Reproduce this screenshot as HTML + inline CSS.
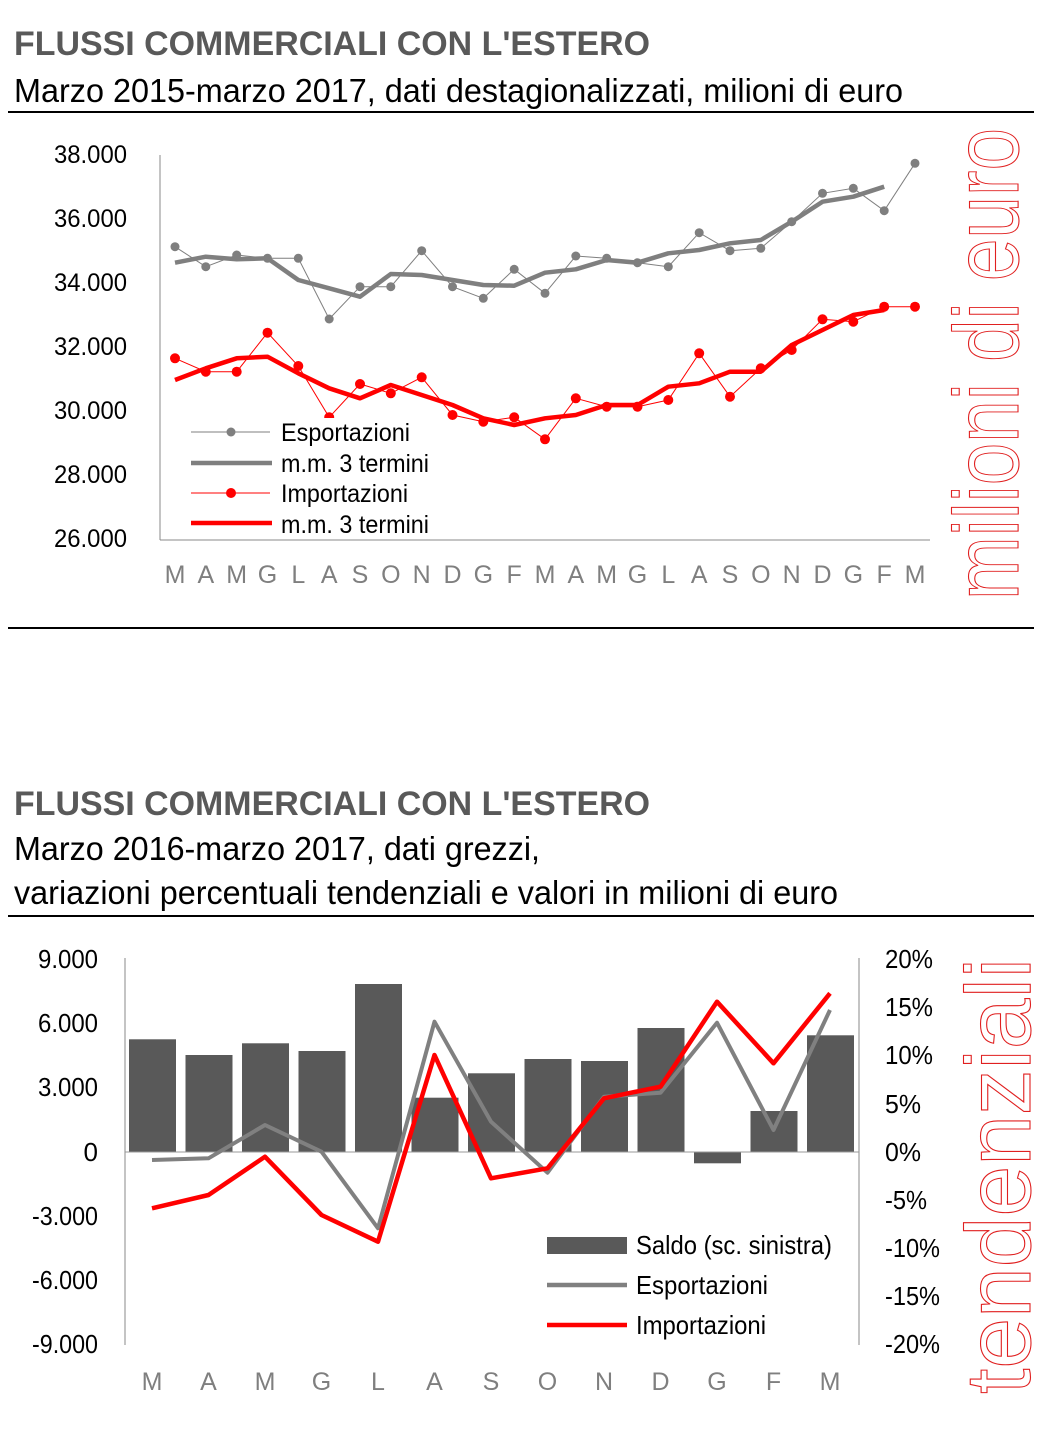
<!DOCTYPE html>
<html><head><meta charset="utf-8"><style>
html,body{margin:0;padding:0;background:#fff;}
svg{display:block;font-family:"Liberation Sans",sans-serif;}
</style></head><body>
<svg width="1040" height="1431" viewBox="0 0 1040 1431" xmlns="http://www.w3.org/2000/svg">
<rect width="1040" height="1431" fill="#fff"/>
<!-- TOP -->
<text x="14" y="55" font-size="34" font-weight="bold" fill="#595959" textLength="636" lengthAdjust="spacingAndGlyphs">FLUSSI COMMERCIALI CON L'ESTERO</text>
<text x="14" y="102" font-size="33" fill="#000" textLength="889" lengthAdjust="spacingAndGlyphs">Marzo 2015-marzo 2017, dati destagionalizzati, milioni di euro</text>
<line x1="8" y1="112" x2="1034" y2="112" stroke="#000" stroke-width="2"/>
<line x1="160" y1="155" x2="160" y2="540" stroke="#888" stroke-width="1"/>
<line x1="160" y1="540" x2="930" y2="540" stroke="#888" stroke-width="1"/>
<g font-size="25" fill="#000" text-anchor="end">
<text x="127" y="163" textLength="73" lengthAdjust="spacingAndGlyphs">38.000</text>
<text x="127" y="227" textLength="73" lengthAdjust="spacingAndGlyphs">36.000</text>
<text x="127" y="291" textLength="73" lengthAdjust="spacingAndGlyphs">34.000</text>
<text x="127" y="355" textLength="73" lengthAdjust="spacingAndGlyphs">32.000</text>
<text x="127" y="419" textLength="73" lengthAdjust="spacingAndGlyphs">30.000</text>
<text x="127" y="483" textLength="73" lengthAdjust="spacingAndGlyphs">28.000</text>
<text x="127" y="547" textLength="73" lengthAdjust="spacingAndGlyphs">26.000</text>
</g>
<g font-size="25" fill="#7f7f7f" text-anchor="middle">
<text x="175" y="583">M</text><text x="205.8" y="583">A</text><text x="236.7" y="583">M</text><text x="267.5" y="583">G</text><text x="298.3" y="583">L</text><text x="329.2" y="583">A</text><text x="360" y="583">S</text><text x="390.8" y="583">O</text><text x="421.7" y="583">N</text><text x="452.5" y="583">D</text><text x="483.3" y="583">G</text><text x="514.2" y="583">F</text><text x="545" y="583">M</text><text x="575.8" y="583">A</text><text x="606.7" y="583">M</text><text x="637.5" y="583">G</text><text x="668.3" y="583">L</text><text x="699.2" y="583">A</text><text x="730" y="583">S</text><text x="760.8" y="583">O</text><text x="791.7" y="583">N</text><text x="822.5" y="583">D</text><text x="853.3" y="583">G</text><text x="884.2" y="583">F</text><text x="915" y="583">M</text>
</g>
<!-- exports -->
<polyline fill="none" stroke="#7f7f7f" stroke-width="1" points="175,246.7 205.8,266.7 236.7,255 267.5,258.3 298.3,258.3 329.2,319 360,286.7 390.8,286.7 421.7,250.7 452.5,286.7 483.3,298.3 514.2,269.3 545,293.3 575.8,256 606.7,258.3 637.5,262.7 668.3,266.7 699.2,232.7 730,250.7 760.8,248.3 791.7,221.7 822.5,193.3 853.3,188.3 884.2,210.7 915,163.3"/>
<g fill="#7f7f7f">
<circle cx="175" cy="246.7" r="4.5"/><circle cx="205.8" cy="266.7" r="4.5"/><circle cx="236.7" cy="255" r="4.5"/><circle cx="267.5" cy="258.3" r="4.5"/><circle cx="298.3" cy="258.3" r="4.5"/><circle cx="329.2" cy="319" r="4.5"/><circle cx="360" cy="286.7" r="4.5"/><circle cx="390.8" cy="286.7" r="4.5"/><circle cx="421.7" cy="250.7" r="4.5"/><circle cx="452.5" cy="286.7" r="4.5"/><circle cx="483.3" cy="298.3" r="4.5"/><circle cx="514.2" cy="269.3" r="4.5"/><circle cx="545" cy="293.3" r="4.5"/><circle cx="575.8" cy="256" r="4.5"/><circle cx="606.7" cy="258.3" r="4.5"/><circle cx="637.5" cy="262.7" r="4.5"/><circle cx="668.3" cy="266.7" r="4.5"/><circle cx="699.2" cy="232.7" r="4.5"/><circle cx="730" cy="250.7" r="4.5"/><circle cx="760.8" cy="248.3" r="4.5"/><circle cx="791.7" cy="221.7" r="4.5"/><circle cx="822.5" cy="193.3" r="4.5"/><circle cx="853.3" cy="188.3" r="4.5"/><circle cx="884.2" cy="210.7" r="4.5"/><circle cx="915" cy="163.3" r="4.5"/>
</g>
<polyline fill="none" stroke="#7f7f7f" stroke-width="4.5" stroke-linejoin="round" points="175,262.7 205.8,256.7 236.7,259.3 267.5,258.3 298.3,280 329.2,288.3 360,296.7 390.8,274 421.7,275 452.5,280 483.3,285 514.2,285.7 545,272.7 575.8,269.3 606.7,260 637.5,262.7 668.3,253.3 699.2,250 730,243.3 760.8,240 791.7,221.7 822.5,201.7 853.3,196.7 884.2,186.7"/>
<!-- imports -->
<polyline fill="none" stroke="#ff0000" stroke-width="1" points="175,358.3 205.8,371.7 236.7,371.7 267.5,332.7 298.3,366 329.2,417.3 360,384 390.8,393.3 421.7,377.3 452.5,415 483.3,421.7 514.2,417.3 545,439.3 575.8,398.3 606.7,406.7 637.5,406.7 668.3,400 699.2,353.3 730,396.7 760.8,368.3 791.7,350 822.5,319.3 853.3,321.7 884.2,306.7 915,306.7"/>
<g fill="#ff0000">
<circle cx="175" cy="358.3" r="5"/><circle cx="205.8" cy="371.7" r="5"/><circle cx="236.7" cy="371.7" r="5"/><circle cx="267.5" cy="332.7" r="5"/><circle cx="298.3" cy="366" r="5"/><circle cx="329.2" cy="417.3" r="5"/><circle cx="360" cy="384" r="5"/><circle cx="390.8" cy="393.3" r="5"/><circle cx="421.7" cy="377.3" r="5"/><circle cx="452.5" cy="415" r="5"/><circle cx="483.3" cy="421.7" r="5"/><circle cx="514.2" cy="417.3" r="5"/><circle cx="545" cy="439.3" r="5"/><circle cx="575.8" cy="398.3" r="5"/><circle cx="606.7" cy="406.7" r="5"/><circle cx="637.5" cy="406.7" r="5"/><circle cx="668.3" cy="400" r="5"/><circle cx="699.2" cy="353.3" r="5"/><circle cx="730" cy="396.7" r="5"/><circle cx="760.8" cy="368.3" r="5"/><circle cx="791.7" cy="350" r="5"/><circle cx="822.5" cy="319.3" r="5"/><circle cx="853.3" cy="321.7" r="5"/><circle cx="884.2" cy="306.7" r="5"/><circle cx="915" cy="306.7" r="5"/>
</g>
<polyline fill="none" stroke="#ff0000" stroke-width="4.5" stroke-linejoin="round" points="175,380 205.8,368.3 236.7,358.3 267.5,356.7 298.3,373.3 329.2,388.3 360,398.3 390.8,385 421.7,395 452.5,405 483.3,418.3 514.2,425 545,418.3 575.8,415 606.7,405 637.5,405 668.3,386.7 699.2,383.3 730,371.7 760.8,371.7 791.7,345 822.5,330 853.3,315 884.2,310"/>
<!-- legend top -->
<rect x="180" y="418" width="260" height="121" fill="#fff"/>
<line x1="191" y1="432" x2="270" y2="432" stroke="#7f7f7f" stroke-width="1"/><circle cx="231" cy="432" r="4.5" fill="#7f7f7f"/>
<line x1="191" y1="463" x2="272" y2="463" stroke="#7f7f7f" stroke-width="4.5"/>
<line x1="191" y1="493" x2="270" y2="493" stroke="#ff0000" stroke-width="1"/><circle cx="231" cy="493" r="5" fill="#ff0000"/>
<line x1="191" y1="523" x2="272" y2="523" stroke="#ff0000" stroke-width="4.5"/>
<g font-size="25" fill="#000">
<text x="281" y="441" textLength="129" lengthAdjust="spacingAndGlyphs">Esportazioni</text>
<text x="281" y="472" textLength="148" lengthAdjust="spacingAndGlyphs">m.m. 3 termini</text>
<text x="281" y="502" textLength="127" lengthAdjust="spacingAndGlyphs">Importazioni</text>
<text x="281" y="533" textLength="148" lengthAdjust="spacingAndGlyphs">m.m. 3 termini</text>
</g>
<text transform="translate(1018,600) rotate(-90)" font-size="92" fill="none" stroke="#e02020" stroke-width="1.1" textLength="472" lengthAdjust="spacingAndGlyphs">milioni di euro</text>
<line x1="8" y1="628" x2="1034" y2="628" stroke="#000" stroke-width="2"/>

<!-- BOTTOM -->
<text x="14" y="815" font-size="34" font-weight="bold" fill="#595959" textLength="636" lengthAdjust="spacingAndGlyphs">FLUSSI COMMERCIALI CON L'ESTERO</text>
<text x="14" y="860" font-size="33" fill="#000" textLength="526" lengthAdjust="spacingAndGlyphs">Marzo 2016-marzo 2017, dati grezzi,</text>
<text x="14" y="904" font-size="33" fill="#000" textLength="824" lengthAdjust="spacingAndGlyphs">variazioni percentuali tendenziali e valori in milioni di euro</text>
<line x1="8" y1="916" x2="1034" y2="916" stroke="#000" stroke-width="2"/>
<line x1="125" y1="958" x2="125" y2="1345" stroke="#888"/>
<line x1="859" y1="958" x2="859" y2="1345" stroke="#888"/>
<g font-size="26" fill="#000" text-anchor="end">
<text x="98" y="968" textLength="60" lengthAdjust="spacingAndGlyphs">9.000</text>
<text x="98" y="1032" textLength="60" lengthAdjust="spacingAndGlyphs">6.000</text>
<text x="98" y="1096" textLength="60" lengthAdjust="spacingAndGlyphs">3.000</text>
<text x="98" y="1161">0</text>
<text x="98" y="1225" textLength="66" lengthAdjust="spacingAndGlyphs">-3.000</text>
<text x="98" y="1289" textLength="66" lengthAdjust="spacingAndGlyphs">-6.000</text>
<text x="98" y="1353" textLength="66" lengthAdjust="spacingAndGlyphs">-9.000</text>
</g>
<g font-size="26" fill="#000">
<text x="885" y="968" textLength="48" lengthAdjust="spacingAndGlyphs">20%</text>
<text x="885" y="1016" textLength="48" lengthAdjust="spacingAndGlyphs">15%</text>
<text x="885" y="1064" textLength="48" lengthAdjust="spacingAndGlyphs">10%</text>
<text x="885" y="1113" textLength="36" lengthAdjust="spacingAndGlyphs">5%</text>
<text x="885" y="1161" textLength="36" lengthAdjust="spacingAndGlyphs">0%</text>
<text x="885" y="1209" textLength="42" lengthAdjust="spacingAndGlyphs">-5%</text>
<text x="885" y="1257" textLength="55" lengthAdjust="spacingAndGlyphs">-10%</text>
<text x="885" y="1305" textLength="55" lengthAdjust="spacingAndGlyphs">-15%</text>
<text x="885" y="1353" textLength="55" lengthAdjust="spacingAndGlyphs">-20%</text>
</g>
<g fill="#595959">
<rect x="129" y="1039.3" width="47" height="112.7"/>
<rect x="185.5" y="1055" width="47" height="97"/>
<rect x="242" y="1043.3" width="47" height="108.7"/>
<rect x="298.5" y="1051" width="47" height="101"/>
<rect x="355" y="984" width="47" height="168"/>
<rect x="411.5" y="1097.7" width="47" height="54.3"/>
<rect x="468" y="1073.3" width="47" height="78.7"/>
<rect x="524.5" y="1059" width="47" height="93"/>
<rect x="581" y="1061" width="47" height="91"/>
<rect x="637.5" y="1028" width="47" height="124"/>
<rect x="694" y="1152" width="47" height="11.3"/>
<rect x="750.5" y="1111" width="47" height="41"/>
<rect x="807" y="1035.3" width="47" height="116.7"/>
</g>
<line x1="125" y1="1152" x2="859" y2="1152" stroke="#999" stroke-width="1"/>
<polyline fill="none" stroke="#808080" stroke-width="4" stroke-linejoin="round" points="152,1160 208.5,1158.3 265,1125 321.5,1151.7 378,1228.3 434.5,1021.7 491,1121.7 547.5,1172.7 604,1096.7 660.5,1092.7 717,1022.7 773.5,1130 830,1010"/>
<polyline fill="none" stroke="#ff0000" stroke-width="4.5" stroke-linejoin="round" points="152,1208.3 208.5,1195 265,1156.7 321.5,1215 378,1241.7 434.5,1055 491,1178.3 547.5,1168.3 604,1098.3 660.5,1086.7 717,1001.7 773.5,1063.3 830,993.3"/>
<rect x="547" y="1237" width="80" height="17" fill="#595959"/>
<line x1="547" y1="1285" x2="627" y2="1285" stroke="#808080" stroke-width="4.5"/>
<line x1="547" y1="1325" x2="627" y2="1325" stroke="#ff0000" stroke-width="4.5"/>
<g font-size="26" fill="#000">
<text x="636" y="1254" textLength="196" lengthAdjust="spacingAndGlyphs">Saldo (sc. sinistra)</text>
<text x="636" y="1294" textLength="132" lengthAdjust="spacingAndGlyphs">Esportazioni</text>
<text x="636" y="1334" textLength="130" lengthAdjust="spacingAndGlyphs">Importazioni</text>
</g>
<g font-size="25" fill="#7f7f7f" text-anchor="middle">
<text x="152" y="1390">M</text><text x="208.5" y="1390">A</text><text x="265" y="1390">M</text><text x="321.5" y="1390">G</text><text x="378" y="1390">L</text><text x="434.5" y="1390">A</text><text x="491" y="1390">S</text><text x="547.5" y="1390">O</text><text x="604" y="1390">N</text><text x="660.5" y="1390">D</text><text x="717" y="1390">G</text><text x="773.5" y="1390">F</text><text x="830" y="1390">M</text>
</g>
<text transform="translate(1030,1394) rotate(-90)" font-size="92" fill="none" stroke="#e02020" stroke-width="1.1" textLength="436" lengthAdjust="spacingAndGlyphs">tendenziali</text>
</svg>
</body></html>
